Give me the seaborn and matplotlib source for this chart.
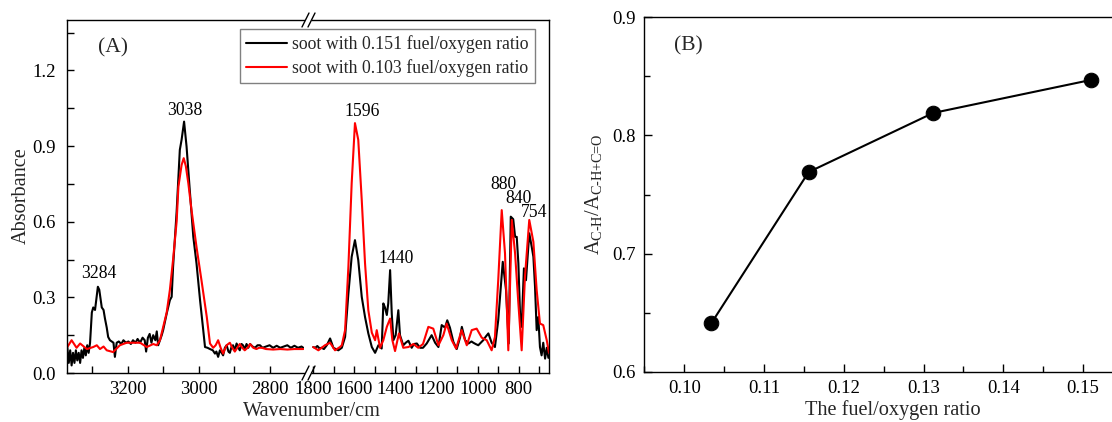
import numpy as np
import pandas as pd
import matplotlib
matplotlib.use("Agg")
import matplotlib.pyplot as plt
import seaborn as sns
from matplotlib.lines import Line2D
from matplotlib.ticker import MultipleLocator, FormatStrFormatter

# ---------------- data ----------------
# soot with 0.151 fuel/oxygen ratio (black)
black_wn = [3370, 3366, 3362, 3358, 3354, 3350, 3346, 3342, 3338, 3334, 3330, 3326, 3322, 3318, 3314, 3310,
            3306, 3301, 3297, 3292, 3284, 3280, 3273, 3268, 3264, 3259, 3255, 3250, 3240, 3236,
            3231, 3225, 3218, 3212, 3205, 3198, 3191, 3185, 3178, 3172, 3165, 3158, 3152, 3148, 3143,
            3138, 3133, 3128, 3122, 3118, 3114, 3109, 3104, 3100, 3090, 3081, 3076, 3072, 3062, 3053,
            3048, 3041, 3034, 3025, 3015, 3006, 2996, 2987, 2982, 2975, 2968, 2960, 2954, 2950, 2945,
            2940, 2935, 2931, 2926, 2921, 2916, 2912, 2907, 2903, 2898, 2893, 2888, 2884, 2879, 2875,
            2870, 2865, 2860, 2855, 2848, 2841, 2834, 2827, 2820, 2810, 2800, 2790, 2780, 2770, 2760,
            2750, 2740, 2730, 2720, 2710, 2705,
            1800, 1790, 1780, 1770, 1759, 1748, 1734, 1718, 1702, 1690, 1678, 1661, 1645, 1629, 1613,
            1597, 1581, 1564, 1548, 1532, 1515, 1499, 1483, 1467, 1459, 1451, 1442, 1435, 1426, 1418,
            1410, 1399, 1386, 1378, 1362, 1350, 1337, 1321, 1310, 1296, 1280, 1266, 1248, 1224, 1207,
            1191, 1175, 1159, 1148, 1135, 1118, 1102, 1086, 1077, 1061, 1045, 1030, 1021, 1010, 997,
            985, 973, 960, 948, 932, 916, 900, 878, 862, 849, 839, 827, 818, 810, 802, 794, 786, 775,
            765, 749, 737, 729, 721, 713, 705, 697, 689, 681, 672, 664, 656]
black_abs = [0.10, 0.04, 0.09, 0.03, 0.08, 0.04, 0.09, 0.05, 0.08, 0.04, 0.09, 0.06, 0.10, 0.07, 0.11, 0.08,
             0.12, 0.24, 0.26, 0.25, 0.342, 0.33, 0.26, 0.25, 0.216, 0.18, 0.143, 0.13, 0.12, 0.064,
             0.12, 0.125, 0.115, 0.13, 0.12, 0.125, 0.115, 0.13, 0.12, 0.135, 0.12, 0.14, 0.13, 0.085, 0.14,
             0.155, 0.12, 0.15, 0.13, 0.165, 0.11, 0.13, 0.15, 0.17, 0.236, 0.289, 0.302, 0.421, 0.64, 0.885,
             0.925, 0.997, 0.898, 0.726, 0.54, 0.435, 0.289, 0.17, 0.103, 0.10, 0.095, 0.09, 0.077, 0.085, 0.064,
             0.09, 0.08, 0.07, 0.10, 0.11, 0.085, 0.08, 0.105, 0.11, 0.09, 0.117, 0.10, 0.09, 0.115, 0.11,
             0.095, 0.115, 0.10, 0.115, 0.105, 0.10, 0.11, 0.11, 0.10, 0.105, 0.11, 0.10, 0.108, 0.10, 0.105,
             0.11, 0.10, 0.108, 0.10, 0.105, 0.10,
             0.103, 0.10, 0.107, 0.098, 0.10, 0.095, 0.11, 0.137, 0.10, 0.095, 0.09, 0.10, 0.143, 0.315, 0.461,
             0.527, 0.448, 0.302, 0.222, 0.157, 0.103, 0.08, 0.11, 0.097, 0.276, 0.26, 0.23, 0.276, 0.408, 0.236,
             0.13, 0.15, 0.249, 0.15, 0.11, 0.12, 0.128, 0.10, 0.115, 0.117, 0.10, 0.10, 0.117, 0.15, 0.12,
             0.103, 0.19, 0.18, 0.209, 0.18, 0.123, 0.095, 0.14, 0.183, 0.13, 0.117, 0.125, 0.12, 0.115, 0.11,
             0.12, 0.13, 0.145, 0.157, 0.12, 0.103, 0.209, 0.441, 0.329, 0.117, 0.62, 0.61, 0.54, 0.54, 0.435,
             0.236, 0.183, 0.415, 0.368, 0.554, 0.50, 0.461, 0.342, 0.17, 0.222, 0.103, 0.07, 0.12, 0.057, 0.10,
             0.06]

# soot with 0.103 fuel/oxygen ratio (red)
red_wn = [3370, 3358, 3344, 3334, 3315, 3297, 3287, 3278, 3268, 3259, 3241, 3222, 3203, 3185, 3165, 3146,
          3128, 3118, 3109, 3090, 3081, 3072, 3062, 3057, 3048, 3042, 3036, 3029, 3020, 3006, 2992, 2977,
          2968, 2959, 2952, 2945, 2938, 2931, 2926, 2921, 2912, 2905, 2898, 2891, 2884, 2877, 2870, 2862,
          2855, 2846, 2837, 2830, 2822, 2810, 2790, 2770, 2750, 2730, 2710, 2705,
          1800, 1775, 1743, 1718, 1694, 1670, 1661, 1645, 1629, 1613, 1597, 1581, 1564, 1548, 1532, 1515,
          1499, 1491, 1475, 1459, 1442, 1426, 1415, 1402, 1383, 1362, 1337, 1313, 1289, 1266, 1240, 1216,
          1191, 1167, 1151, 1126, 1105, 1078, 1053, 1029, 1005, 980, 956, 932, 916, 900, 883, 867, 851,
          834, 818, 802, 786, 770, 749, 729, 713, 697, 681, 664, 653]
red_abs = [0.103, 0.13, 0.10, 0.117, 0.095, 0.103, 0.11, 0.095, 0.105, 0.09, 0.083, 0.11, 0.12, 0.12, 0.12,
           0.103, 0.115, 0.11, 0.13, 0.24, 0.33, 0.45, 0.60, 0.739, 0.825, 0.852, 0.82, 0.752, 0.646, 0.50,
           0.368, 0.222, 0.117, 0.10, 0.11, 0.13, 0.10, 0.077, 0.095, 0.11, 0.12, 0.10, 0.085, 0.10, 0.115,
           0.10, 0.09, 0.10, 0.115, 0.10, 0.095, 0.10, 0.10, 0.095, 0.093, 0.095, 0.093, 0.095, 0.095, 0.095,
           0.103, 0.09, 0.11, 0.12, 0.09, 0.103, 0.11, 0.17, 0.421, 0.752, 0.991, 0.925, 0.686, 0.435, 0.249,
           0.16, 0.13, 0.17, 0.10, 0.13, 0.183, 0.216, 0.13, 0.087, 0.157, 0.10, 0.103, 0.115, 0.10, 0.115,
           0.183, 0.176, 0.11, 0.15, 0.196, 0.13, 0.097, 0.17, 0.11, 0.17, 0.176, 0.14, 0.13, 0.09, 0.143,
           0.368, 0.646, 0.474, 0.09, 0.607, 0.474, 0.276, 0.09, 0.381, 0.607, 0.52, 0.329, 0.196, 0.19, 0.13,
           0.08]

# panel B
ratio = [0.1034, 0.1156, 0.1312, 0.1510]
ach_ratio = [0.641, 0.769, 0.819, 0.847]

labels_A = ["soot with 0.151 fuel/oxygen ratio", "soot with 0.103 fuel/oxygen ratio"]
peak_labels = ["3284", "3038", "1596", "1440", "880", "840", "754"]
peak_label_x = [3281, 3039, 1564, 1398, 873, 800, 724]
peak_label_y = [0.375, 1.024, 1.020, 0.435, 0.729, 0.673, 0.620]

# ---------------- style ----------------
sns.set_theme(style="ticks")
plt.rcParams["font.family"] = ["Liberation Serif", "DejaVu Serif"]
plt.rcParams["mathtext.fontset"] = "custom"
plt.rcParams["mathtext.rm"] = "Liberation Serif"
plt.rcParams["mathtext.it"] = "Liberation Serif:italic"
plt.rcParams["mathtext.bf"] = "Liberation Serif:bold"
plt.rcParams["axes.linewidth"] = 1.0
plt.rcParams["axes.edgecolor"] = "black"

W, H = 1112, 422
fig = plt.figure(figsize=(W / 100, H / 100), dpi=100)
fig.patch.set_facecolor("white")


def fx(p):
    return p / W


def fy(p):
    return 1 - p / H


def box(l, t, r, b):
    return [fx(l), fy(b), (r - l) / W, (b - t) / H]


ax1 = fig.add_axes(box(67, 20, 304, 373))
ax2 = fig.add_axes(box(312, 20, 549, 373))
ax3 = fig.add_axes(box(644.3, 17.3, 1123, 371.7))

TICK_FS = 13.5
LABEL_FS = 14.6

black = pd.DataFrame({"wn": black_wn, "abs": black_abs})
red = pd.DataFrame({"wn": red_wn, "abs": red_abs})

for ax, sel in ((ax1, lambda d: d[d.wn > 2000]), (ax2, lambda d: d[d.wn < 2000])):
    sns.lineplot(data=sel(black), x="wn", y="abs", ax=ax, color="black", lw=1.5,
                 sort=False, estimator=None, label=labels_A[0])
    sns.lineplot(data=sel(red), x="wn", y="abs", ax=ax, color="#ff0000", lw=1.5,
                 sort=False, estimator=None, label=labels_A[1])
    ax.get_legend().remove()
    ax.set_xlabel("")
    ax.set_ylabel("")
    ax.set_ylim(0, 1.4)
    ax.xaxis.set_major_locator(MultipleLocator(200))
    ax.xaxis.set_minor_locator(MultipleLocator(100))
    ax.tick_params(axis="both", which="both", direction="in", labelsize=TICK_FS, colors="black",
                   top=False, right=False)
    ax.tick_params(which="major", length=5, width=1)
    ax.tick_params(which="minor", length=5, width=1)

ax1.set_xlim(3371, 2703)
ax2.set_xlim(1806, 653)
ax1.spines["right"].set_visible(False)
ax2.spines["left"].set_visible(False)
ax1.yaxis.set_major_locator(MultipleLocator(0.3))
ax1.yaxis.set_minor_locator(MultipleLocator(0.15))
ax1.yaxis.set_major_formatter(FormatStrFormatter("%.1f"))
ax1.tick_params(axis="y", pad=8)
ax2.tick_params(axis="y", which="both", left=False, labelleft=False)
for ax in (ax1, ax2):
    ax.tick_params(axis="x", pad=6)

# peak labels
for lab, x, y in zip(peak_labels, peak_label_x, peak_label_y):
    ax = ax1 if x > 2000 else ax2
    ax.text(x, y, lab, ha="center", va="baseline", fontsize=12.7, color="black")

# break marks
for xc in (305.5, 311.5):
    for yc in (20, 373):
        fig.add_artist(Line2D([fx(xc - 3.5), fx(xc + 3.5)], [fy(yc + 7), fy(yc - 7)],
                              color="black", lw=1.0, transform=fig.transFigure))

# legend
h, l = ax1.get_legend_handles_labels()
leg = fig.legend(h[:2], l[:2], loc="upper right", bbox_to_anchor=(fx(535), fy(29)),
                 fontsize=12.8, frameon=True, fancybox=False, edgecolor="#808080",
                 framealpha=1, handlelength=2.3, handletextpad=0.3, borderpad=0.35,
                 labelspacing=0.35, borderaxespad=0)
leg.get_frame().set_linewidth(1.0)

fig.text(fx(113), fy(48), "(A)", ha="center", va="center", fontsize=15.5)
fig.text(fx(21), fy(196), "Absorbance", ha="center", va="center", rotation=90, fontsize=LABEL_FS)
fig.text(fx(312), fy(411), "Wavenumber/cm", ha="center", va="center", fontsize=LABEL_FS)

# ---------------- panel B ----------------
sns.lineplot(x=ratio, y=ach_ratio, ax=ax3, color="black", lw=1.5, marker="o", markersize=10.5,
             markeredgecolor="black", markerfacecolor="black", sort=False, estimator=None)
ax3.set_xlim(0.095, 0.155)
ax3.set_ylim(0.6, 0.9)
ax3.xaxis.set_major_locator(MultipleLocator(0.01))
ax3.xaxis.set_minor_locator(MultipleLocator(0.005))
ax3.yaxis.set_major_locator(MultipleLocator(0.1))
ax3.yaxis.set_minor_locator(MultipleLocator(0.05))
ax3.xaxis.set_major_formatter(FormatStrFormatter("%.2f"))
ax3.yaxis.set_major_formatter(FormatStrFormatter("%.1f"))
ax3.tick_params(axis="both", which="both", direction="in", labelsize=TICK_FS, colors="black",
                top=False, right=False)
ax3.tick_params(which="major", length=6, width=1)
ax3.tick_params(which="minor", length=4, width=1)
ax3.tick_params(axis="x", pad=6)
ax3.tick_params(axis="y", pad=6)
ax3.spines["right"].set_visible(False)
ax3.set_xlabel("")
ax3.set_ylabel("")

fig.text(fx(688), fy(46), "(B)", ha="center", va="center", fontsize=15.5)
fig.text(fx(893), fy(410), "The fuel/oxygen ratio", ha="center", va="center", fontsize=LABEL_FS)
fig.text(fx(593), fy(194), r"$\mathrm{A}_{\text{C-H}}/\mathrm{A}_{\text{C-H+C=O}}$",
         ha="center", va="center", rotation=90, fontsize=LABEL_FS)

fig.savefig("out.png", dpi=100, facecolor="white")
